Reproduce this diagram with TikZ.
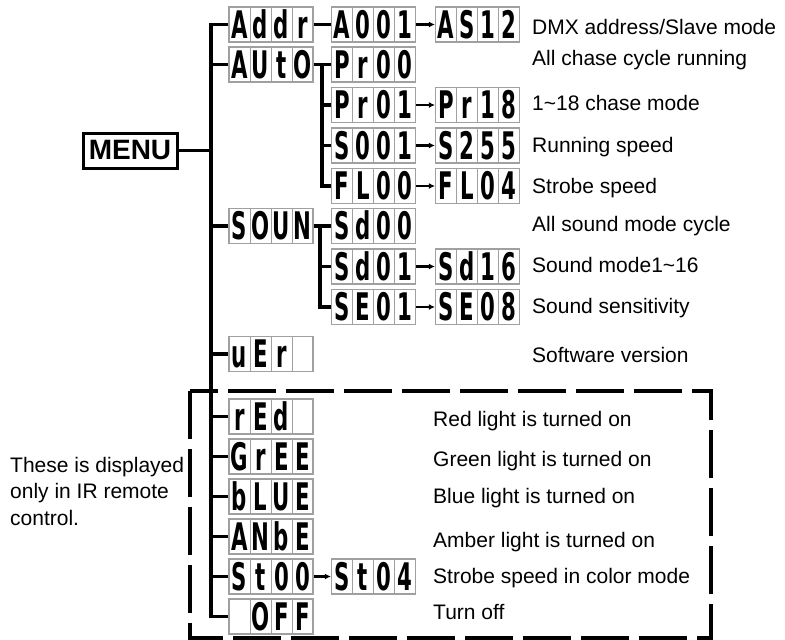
\documentclass[tikz,border=0pt]{standalone}
\usepackage{fontspec}
\setmainfont{Liberation Sans}
\newfontfamily\lcdfont{DejaVu Sans}
\usepackage{graphicx}
\usetikzlibrary{positioning, arrows.meta}

\definecolor{lcdgray}{HTML}{A0A0A0}
\newcommand{\lcdcell}[1]{\makebox[21pt]{\scalebox{0.56}[1]{\lcdfont\bfseries #1}}}
\newcommand{\lcd}[4]{\lcdcell{#1}\lcdcell{#2}\lcdcell{#3}\lcdcell{#4}}

\begin{document}
\begin{tikzpicture}[x=1pt, y=-1pt, on grid, node distance=40.5pt,
  lcd/.style={draw=lcdgray, line width=1.2pt, inner sep=0pt, minimum width=84pt,
    text height=31pt, text depth=4pt, font=\fontsize{38}{38}\selectfont,
    path picture={\foreach \k in {1,2,3}
      \draw[lcdgray, line width=1pt] ([xshift=\k*21pt]path picture bounding box.north west)
        -- ([xshift=\k*21pt]path picture bounding box.south west);}},
  wire/.style={line width=3.5pt},
  nxt/.style={line width=2.2pt, -{Latex[length=6pt,width=6pt]}},
  lbl/.style={anchor=west, inner sep=0pt, text height=15pt, text depth=0pt,
    font=\fontsize{21}{26}\selectfont}]
  \useasboundingbox (0,0) rectangle (785,640);

  % IR remote frame
  \draw[line width=4pt, dash pattern=on 48pt off 10pt] (190,391) rectangle (711,638);

  \node[draw, line width=3pt, minimum width=94pt, minimum height=35pt, inner sep=0pt,
    font=\fontsize{28}{28}\selectfont\bfseries] (menu) at (130,150.5) {MENU};

  % first column
  \node[lcd] (addr) at (271,24.5) {\lcd Addr};
  \node[lcd] (auto) at (271,64.5) {\lcd AUtO};
  \node[lcd] (soun) at (271,226) {\lcd SOUN};
  \node[lcd] (ver) at (271,354) {\lcd uEr{}};
  \node[lcd] (red) at (271,416.5) {\lcd rEd{}};
  \node[lcd, below=40pt of red] (gree) {\lcd GrEE};
  \node[lcd, below=40pt of gree] (blue) {\lcd bLUE};
  \node[lcd, below=40pt of blue] (ambe) {\lcd ANbE};
  \node[lcd, below=40pt of ambe] (st) {\lcd St00};
  \node[lcd, below=40pt of st] (off) {\lcd{}OFF};

  % second and third column
  \node[lcd, right=102.5pt of addr] (a001) {\lcd A001};
  \node[lcd, right=104pt of a001] (as12) {\lcd AS12};
  \node[lcd, right=102.5pt of auto] (pr00) {\lcd Pr00};
  \node[lcd, below=of pr00] (pr01) {\lcd Pr01};
  \node[lcd, right=104pt of pr01] (pr18) {\lcd Pr18};
  \node[lcd, below=of pr01] (s001) {\lcd S001};
  \node[lcd, right=104pt of s001] (s255) {\lcd S255};
  \node[lcd, below=of s001] (fl00) {\lcd FL00};
  \node[lcd, right=104pt of fl00] (fl04) {\lcd FL04};
  \node[lcd, right=102.5pt of soun] (sd00) {\lcd Sd00};
  \node[lcd, below=of sd00] (sd01) {\lcd Sd01};
  \node[lcd, right=104pt of sd01] (sd16) {\lcd Sd16};
  \node[lcd, below=of sd01] (se01) {\lcd SE01};
  \node[lcd, right=104pt of se01] (se08) {\lcd SE08};
  \node[lcd, right=102.5pt of st] (st04) {\lcd St04};

  % wiring
  \coordinate (bus) at (211,0);
  \coordinate (autobus) at (322,0);
  \coordinate (sounbus) at (320,0);
  \draw[wire] (menu.east) -- (menu.east -| bus);
  \draw[wire] (addr.west) -- (addr.west -| bus) -- (off.west -| bus) -- (off.west);
  \foreach \n in {auto,soun,ver,red,gree,blue,ambe,st}
    \draw[wire] (\n.west -| bus) -- (\n.west);
  \draw[wire] (addr) -- (a001);
  \draw[wire] (auto) -- (pr00);
  \draw[wire] (auto.east -| autobus) -- (fl00.west -| autobus) -- (fl00.west);
  \foreach \n in {pr01,s001}
    \draw[wire] (\n.west -| autobus) -- (\n.west);
  \draw[wire] (soun) -- (sd00);
  \draw[wire] (soun.east -| sounbus) -- (se01.west -| sounbus) -- (se01.west);
  \draw[wire] (sd01.west -| sounbus) -- (sd01.west);
  \draw[nxt] (a001) -- (as12);
  \draw[nxt] (pr01) -- (pr18);
  \draw[nxt] (s001) -- (s255);
  \draw[nxt] (fl00) -- (fl04);
  \draw[nxt] (sd01) -- (sd16);
  \draw[nxt] (se01) -- (se08);
  \draw[nxt] (st) -- (st04);

  % descriptions
  \node[lbl] (t-addr) at (532,26.5) {DMX address/Slave mode};
  \node[lbl] (t-pr00) at (532,57.5) {All chase cycle running};
  \node[lbl] (t-pr01) at (532,102.5) {1\textasciitilde18 chase mode};
  \node[lbl] (t-s001) at (532,144.5) {Running speed};
  \node[lbl] (t-fl00) at (532,185.5) {Strobe speed};
  \node[lbl] (t-sd00) at (532,223.5) {All sound mode cycle};
  \node[lbl] (t-sd01) at (532,264.5) {Sound mode1\textasciitilde16};
  \node[lbl] (t-se01) at (532,306) {Sound sensitivity};
  \node[lbl] (t-ver) at (532,354.5) {Software version};
  \node[lbl] (t-red) at (433,419) {Red light is turned on};
  \node[lbl] (t-gree) at (433,458.5) {Green light is turned on};
  \node[lbl] (t-blue) at (433,495.5) {Blue light is turned on};
  \node[lbl] (t-ambe) at (433,539.5) {Amber light is turned on};
  \node[lbl] (t-st) at (433,575.5) {Strobe speed in color mode};
  \node[lbl] (t-off) at (433,611.5) {Turn off};

  \node[anchor=north west, inner sep=0pt, align=left, font=\fontsize{21}{26.5}\selectfont]
    (irnote) at (10,457) {These is displayed\\only in IR remote\\control.};
\end{tikzpicture}
\end{document}
